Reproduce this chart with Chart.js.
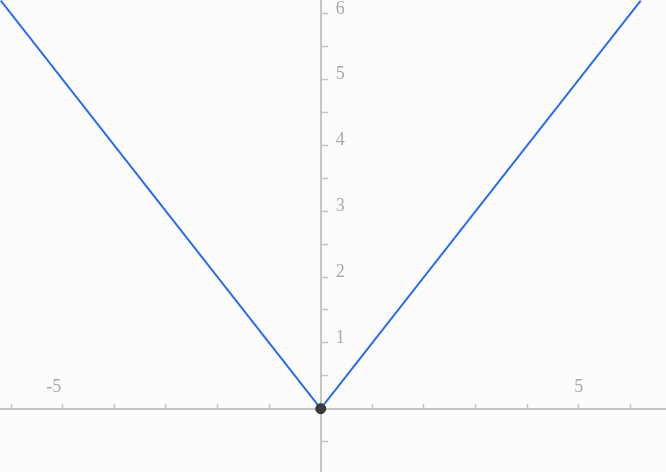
<!DOCTYPE html>
<html>
<head>
<meta charset="utf-8">
<script src="https://cdn.jsdelivr.net/npm/chart.js@4/dist/chart.umd.min.js"></script>
<style>
    html, body { margin: 0; padding: 0; background: #fcfcfc; }
    #wrap { width: 666px; height: 472px; }
</style>
</head>
<body>
<div id="wrap"><canvas id="absChart" width="666" height="472"></canvas></div>
<script>
// y = |x|
const xPoints = [-6.2, 0, 6.2];
const yPoints = [6.2, 0, 6.2];
const xTickLabels = [-5, 5];
const yTickLabels = [1, 2, 3, 4, 5, 6];

const axisGrey = '#c6c6c6';
const labelGrey = '#a8a8a8';
const serifFamily = '"Liberation Serif", "DejaVu Serif", serif';
const serif = { family: serifFamily, size: 18 };

// y labels sit to the right of the centred y axis, which Chart.js can't do by itself
const yAxisLabels = {
    id: 'yAxisLabels',
    afterDraw(chart) {
        const c = chart.ctx;
        const xs = chart.scales.x;
        const ys = chart.scales.y;
        const x0 = xs.getPixelForValue(0);
        c.save();
        c.font = '18px ' + serifFamily;
        c.fillStyle = labelGrey;
        c.textAlign = 'left';
        c.textBaseline = 'middle';
        yTickLabels.forEach(v => {
            c.fillText(String(v), x0 + 15, ys.getPixelForValue(v) - 5);
        });
        c.restore();
    }
};

document.addEventListener('DOMContentLoaded', function () {
    const ctx = document.getElementById('absChart');

    new Chart(ctx, {
        type: 'scatter',
        data: {
            datasets: [{
                data: xPoints.map((x, i) => ({ x: x, y: yPoints[i] })),
                showLine: true,
                borderColor: '#2a6cf0',
                borderWidth: 2,
                tension: 0,
                pointRadius: xPoints.map(x => (x === 0 ? 5 : 0)),
                pointBackgroundColor: '#3b3b3b',
                pointBorderColor: '#2e2e2e',
                pointBorderWidth: 1
            }]
        },
        options: {
            responsive: false,
            animation: false,
            layout: { padding: 0, autoPadding: false },
            plugins: {
                legend: { display: false },
                tooltip: { enabled: false }
            },
            scales: {
                x: {
                    type: 'linear',
                    position: { y: 0 },
                    min: -6.215,
                    max: 6.69,
                    border: { color: axisGrey, width: 2 },
                    grid: {
                        drawOnChartArea: false,
                        tickLength: -6,
                        tickColor: axisGrey,
                        tickWidth: 1.5
                    },
                    ticks: {
                        stepSize: 1,
                        includeBounds: false,
                        autoSkip: false,
                        maxRotation: 0,
                        padding: -26,
                        color: labelGrey,
                        font: serif,
                        callback: v => {
                            if (!xTickLabels.includes(v)) return '';
                            return v < 0 ? String(v) + '\u2002\u2002' : String(v);
                        }
                    }
                },
                y: {
                    type: 'linear',
                    position: { x: 0 },
                    min: -0.962,
                    max: 6.211,
                    border: { color: axisGrey, width: 2 },
                    grid: {
                        drawOnChartArea: false,
                        tickLength: -8,
                        tickColor: axisGrey,
                        tickWidth: 1.5
                    },
                    ticks: {
                        display: false,
                        stepSize: 0.5,
                        includeBounds: false,
                        autoSkip: false
                    }
                }
            }
        },
        plugins: [yAxisLabels]
    });
});
</script>
</body>
</html>
